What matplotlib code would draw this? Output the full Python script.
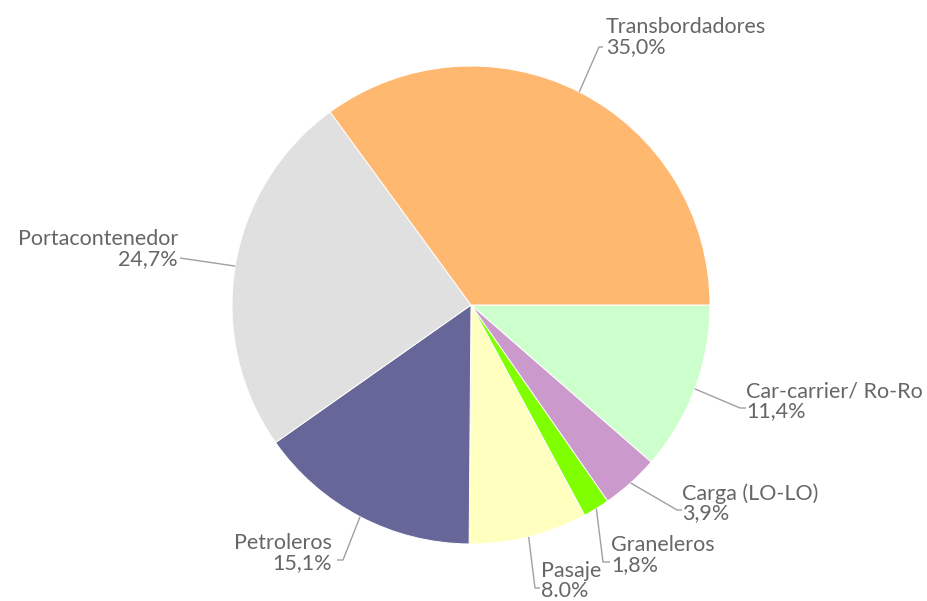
import numpy as np
import matplotlib.pyplot as plt

# wedge data, clockwise from 3 o'clock
categories = ["Car-carrier/ Ro-Ro", "Carga (LO-LO)", "Graneleros", "Pasaje",
              "Petroleros", "Portacontenedor", "Transbordadores"]
shares = [11.4, 3.9, 1.8, 8.0, 15.1, 24.7, 35.0]
pct_labels = ["11,4%", "3,9%", "1,8%", "8.0%", "15,1%", "24,7%", "35,0%"]

colors = ["#CCFFCC", "#CC99CC", "#80FF00", "#FFFFC0",
          "#666699", "#E0E0E0", "#FFB870"]

W, H = 928, 601
cx, cy, R = 471, H - 305, 239

# label layout in pixel coords (top-down y): elbow point, text anchor, alignment
elbows = [(740, 408), (677, 510), (603, 562), (535, 588),
          (343, 560), (180, 258), (599, 47)]
text_pos = [(746, 401), (682, 503), (611, 555), (541, 581),
            (332, 553), (178, 249), (606, 37)]
aligns = ["left", "left", "left", "left", "right", "right", "left"]
tails = [6, 5, 7, 5, -6, 0, 4]

plt.rcParams["font.family"] = ["Lato", "DejaVu Sans"]

fig = plt.figure(figsize=(W / 100, H / 100), dpi=100)
ax = fig.add_axes([0, 0, 1, 1])

wedges, _ = ax.pie(shares, colors=colors, startangle=0, counterclock=False,
                   center=(cx, cy), radius=R, frame=True,
                   wedgeprops=dict(edgecolor="white", linewidth=0.7))
ax.set_xlim(0, W)
ax.set_ylim(0, H)
ax.set_aspect("equal")
ax.axis("off")

for w, name, pct, el, tp, ha, tl in zip(wedges, categories, pct_labels,
                                       elbows, text_pos, aligns, tails):
    mid = np.deg2rad((w.theta1 + w.theta2) / 2)
    x0 = cx + R * np.cos(mid)
    y0 = cy + R * np.sin(mid)
    ex, ey = el[0], H - el[1]
    ax.plot([x0, ex, ex + tl], [y0, ey, ey], color="#A0A0A0", lw=1.0,
            solid_capstyle="butt")
    ax.text(tp[0], H - tp[1], name + "\n" + pct, ha=ha, va="center",
            fontsize=15.5, color="#666666", linespacing=0.95)

fig.savefig("out.png", dpi=100)
